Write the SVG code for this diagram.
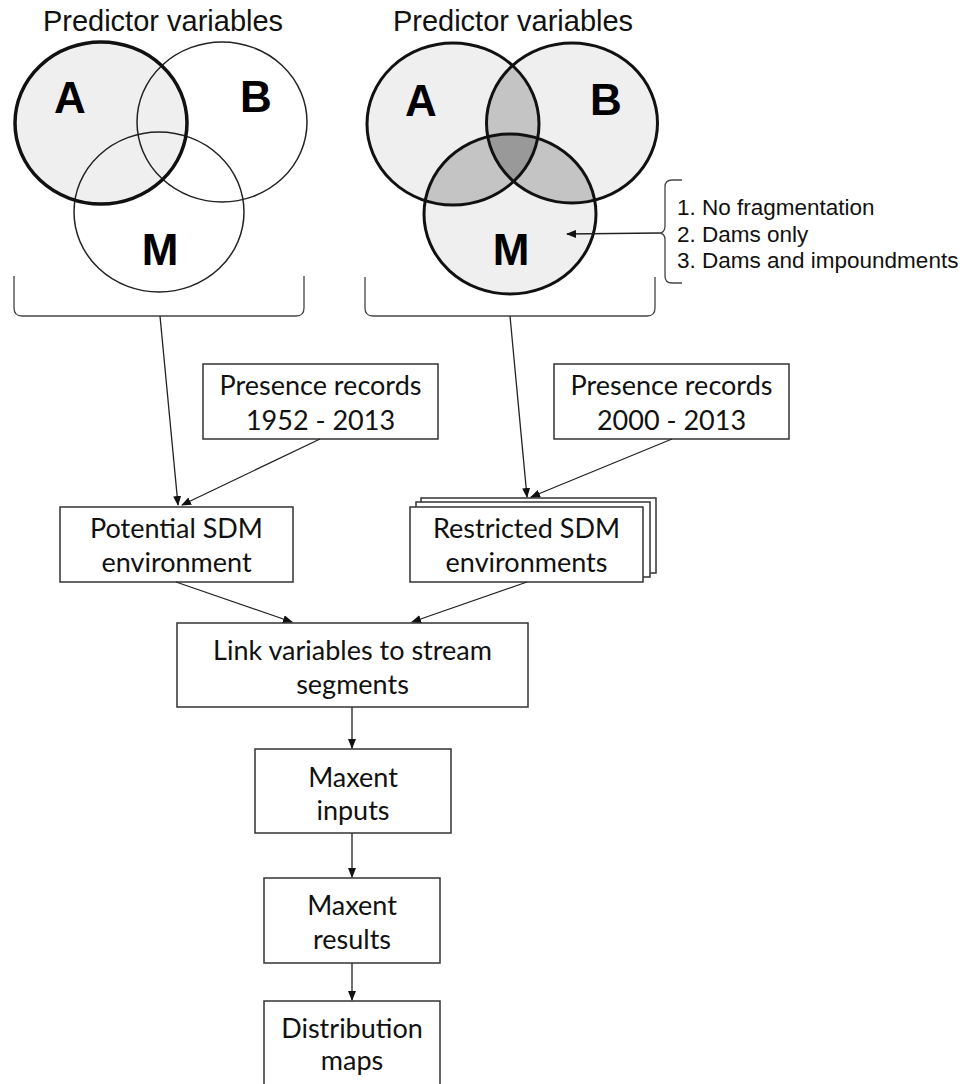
<svg xmlns="http://www.w3.org/2000/svg" width="967" height="1084" viewBox="0 0 967 1084">
<style>
.title{font-family:"Liberation Sans",Arial,sans-serif;font-size:29px;fill:#111;text-anchor:middle}
.big{font-family:"Liberation Sans",Arial,sans-serif;font-size:44px;font-weight:bold;fill:#000;text-anchor:middle}
.list{font-family:"Liberation Sans",Arial,sans-serif;font-size:22.5px;fill:#111}
.lbl{font-family:Lato,"Open Sans",sans-serif;font-size:27px;fill:#111;text-anchor:middle}
.box{fill:#fff;stroke:#333;stroke-width:1.5}
.con{fill:none;stroke:#222;stroke-width:1.3}
.brk{fill:none;stroke:#444;stroke-width:1.3}
</style>
<defs>
<marker id="ah" markerWidth="10" markerHeight="8" refX="9" refY="4" orient="auto" markerUnits="userSpaceOnUse">
<path d="M0,0 L10,4 L0,8 z" fill="#111"/>
</marker>
<clipPath id="cA"><ellipse cx="453" cy="124" rx="86" ry="81"/></clipPath>
<clipPath id="cB"><ellipse cx="572" cy="123" rx="85.5" ry="80"/></clipPath>
<clipPath id="cM"><ellipse cx="510" cy="214" rx="86" ry="80"/></clipPath>
</defs>

<g id="venn-left">
<text class="title" x="163" y="31">Predictor variables</text>
<ellipse cx="101" cy="123" rx="86" ry="81" fill="#efefef" stroke="none"/>
<ellipse cx="222" cy="122" rx="85" ry="80" fill="none" stroke="#222" stroke-width="1.5"/>
<ellipse cx="159" cy="212" rx="85" ry="80" fill="none" stroke="#222" stroke-width="1.5"/>
<ellipse cx="101" cy="123" rx="86" ry="81" fill="none" stroke="#111" stroke-width="3.5"/>
<text class="big" x="70" y="113">A</text>
<text class="big" x="256" y="112">B</text>
<text class="big" x="160" y="265">M</text>
<path class="brk" d="M14,276 V308 Q14,316 22,316 H296 Q304,316 304,308 V276"/>
</g>

<g id="venn-right">
<text class="title" x="513" y="31">Predictor variables</text>
<ellipse cx="453" cy="124" rx="86" ry="81" fill="#efefef"/>
<ellipse cx="572" cy="123" rx="85.5" ry="80" fill="#efefef"/>
<ellipse cx="510" cy="214" rx="86" ry="80" fill="#efefef"/>
<g clip-path="url(#cA)">
<ellipse cx="572" cy="123" rx="85.5" ry="80" fill="#c4c4c4"/>
<ellipse cx="510" cy="214" rx="86" ry="80" fill="#c4c4c4"/>
</g>
<g clip-path="url(#cB)">
<ellipse cx="510" cy="214" rx="86" ry="80" fill="#c4c4c4"/>
<g clip-path="url(#cA)"><ellipse cx="510" cy="214" rx="86" ry="80" fill="#999"/></g>
</g>
<ellipse cx="453" cy="124" rx="86" ry="81" fill="none" stroke="#111" stroke-width="3"/>
<ellipse cx="572" cy="123" rx="85.5" ry="80" fill="none" stroke="#111" stroke-width="3"/>
<ellipse cx="510" cy="214" rx="86" ry="80" fill="none" stroke="#111" stroke-width="3"/>
<text class="big" x="421" y="116">A</text>
<text class="big" x="606" y="115">B</text>
<text class="big" x="511" y="265">M</text>
<path class="brk" d="M365,277 V308 Q365,316 373,316 H647 Q655,316 655,308 V277"/>
</g>

<g id="fragmentation-list">
<path class="brk" d="M682,180 H672 Q665,180 665,187 V226 Q665,233 659,233 Q665,233 665,240 V276 Q665,283 672,283 H682"/>
<text class="list" x="677" y="215">1. No fragmentation</text>
<text class="list" x="677" y="242">2. Dams only</text>
<text class="list" x="677" y="268">3. Dams and impoundments</text>
</g>

<g id="presence-1952">
<rect class="box" x="203" y="364" width="235" height="75"/>
<text class="lbl" x="320.5" y="395">Presence records</text>
<text class="lbl" x="320.5" y="430">1952 - 2013</text>
</g>

<g id="presence-2000">
<rect class="box" x="554" y="364" width="235" height="75"/>
<text class="lbl" x="671.5" y="395">Presence records</text>
<text class="lbl" x="671.5" y="430">2000 - 2013</text>
</g>

<g id="potential-sdm">
<rect class="box" x="60" y="507" width="233" height="75"/>
<text class="lbl" x="176.5" y="538">Potential SDM</text>
<text class="lbl" x="176.5" y="572">environment</text>
</g>

<g id="restricted-sdm">
<rect class="box" x="421" y="498" width="235" height="75"/>
<rect class="box" x="416" y="502" width="234" height="75"/>
<rect class="box" x="410" y="507" width="233" height="75"/>
<text class="lbl" x="526.5" y="538">Restricted SDM</text>
<text class="lbl" x="526.5" y="572">environments</text>
</g>

<g id="link-variables">
<rect class="box" x="177" y="623" width="351" height="84"/>
<text class="lbl" x="352.5" y="660">Link variables to stream</text>
<text class="lbl" x="352.5" y="694">segments</text>
</g>

<g id="maxent-inputs">
<rect class="box" x="255" y="749" width="196" height="84"/>
<text class="lbl" x="353" y="787">Maxent</text>
<text class="lbl" x="353" y="820">inputs</text>
</g>

<g id="maxent-results">
<rect class="box" x="264" y="878" width="176" height="85"/>
<text class="lbl" x="352" y="915">Maxent</text>
<text class="lbl" x="352" y="949">results</text>
</g>

<g id="distribution-maps">
<rect class="box" x="264" y="1001" width="176" height="100"/>
<text class="lbl" x="352" y="1038">Distribution</text>
<text class="lbl" x="352" y="1070">maps</text>
</g>

<g id="connectors">
<line class="con" x1="160" y1="316" x2="178" y2="505" marker-end="url(#ah)"/>
<line class="con" x1="320" y1="439" x2="182" y2="505" marker-end="url(#ah)"/>
<line class="con" x1="510" y1="316" x2="527" y2="497" marker-end="url(#ah)"/>
<line class="con" x1="672" y1="439" x2="531" y2="497" marker-end="url(#ah)"/>
<line class="con" x1="659" y1="233" x2="567" y2="234" marker-end="url(#ah)"/>
<line class="con" x1="176" y1="582" x2="292" y2="622" marker-end="url(#ah)"/>
<line class="con" x1="527" y1="582" x2="412" y2="622" marker-end="url(#ah)"/>
<line class="con" x1="352" y1="707" x2="352" y2="748" marker-end="url(#ah)"/>
<line class="con" x1="352" y1="833" x2="352" y2="877" marker-end="url(#ah)"/>
<line class="con" x1="352" y1="963" x2="352" y2="1000" marker-end="url(#ah)"/>
</g>
</svg>
